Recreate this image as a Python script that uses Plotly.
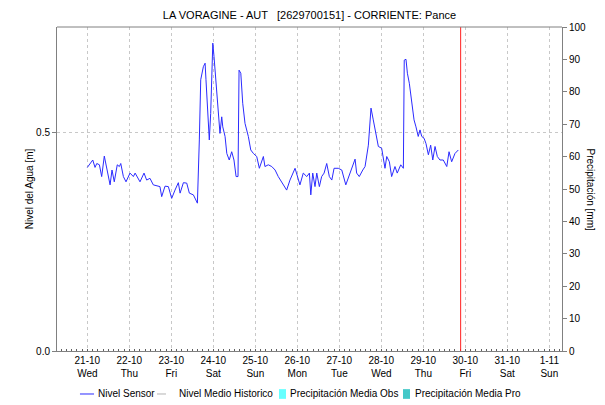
import pandas as pd
import plotly.graph_objects as go

# Nivel Sensor readings: hours after 21-10-2020 00:00 and water level [m]
sensor_hours = [
    0.0, 3.1, 4.4, 5.4, 6.9, 8.2, 9.7, 11.1, 13.0, 14.1, 15.4, 17.1, 18.3, 19.1,
    20.6, 22.1, 24.4, 26.3, 27.3, 30.1, 32.4, 33.9, 35.8, 37.7, 41.5, 42.5, 44.4,
    46.3, 48.2, 50.1, 52.0, 53.0, 54.9, 56.8, 58.3, 60.6, 62.9, 64.0, 64.8, 66.3,
    67.3, 67.8, 68.8, 69.7, 70.5, 71.1, 71.7, 72.4, 73.5, 74.5, 75.8, 76.8, 77.4,
    78.7, 79.7, 81.1, 82.5, 83.8, 85.0, 86.1, 86.7, 87.7, 88.8, 90.1, 92.0, 93.4,
    94.9, 96.8, 98.3, 100.6, 101.5, 103.4, 105.4, 107.3, 109.1, 113.9, 115.8,
    118.7, 120.0, 121.5, 123.4, 125.4, 126.9, 127.7, 128.8, 130.1, 131.1, 132.6,
    133.9, 135.3, 136.8, 138.3, 139.7, 141.0, 143.4, 145.4, 147.7, 150.1, 151.7,
    153.0, 153.9, 155.4, 157.4, 158.7, 160.6, 162.1, 163.4, 165.0, 166.3, 168.2,
    170.1, 171.1, 172.6, 173.9, 175.8, 177.1, 179.1, 180.6, 181.1, 182.1, 182.9,
    184.0, 185.4, 186.7, 187.8, 189.1, 190.1, 191.1, 192.4, 193.5, 194.9, 196.2,
    197.4, 198.7, 200.0, 201.5, 203.4, 205.4, 206.7, 208.2, 210.1, 212.0,
]
sensor_level = [
    0.421, 0.438, 0.421, 0.430, 0.427, 0.400, 0.447, 0.415, 0.381, 0.415, 0.388,
    0.427, 0.423, 0.430, 0.400, 0.388, 0.408, 0.400, 0.408, 0.388, 0.408, 0.392,
    0.396, 0.381, 0.377, 0.354, 0.378, 0.377, 0.350, 0.369, 0.386, 0.362, 0.386,
    0.385, 0.362, 0.358, 0.339, 0.484, 0.622, 0.652, 0.660, 0.622, 0.545, 0.484,
    0.545, 0.614, 0.706, 0.675, 0.614, 0.568, 0.499, 0.537, 0.514, 0.492, 0.453,
    0.438, 0.457, 0.438, 0.400, 0.400, 0.644, 0.637, 0.568, 0.522, 0.492, 0.461,
    0.453, 0.446, 0.419, 0.446, 0.423, 0.427, 0.423, 0.415, 0.400, 0.369, 0.392,
    0.419, 0.400, 0.381, 0.408, 0.400, 0.408, 0.358, 0.408, 0.377, 0.408, 0.377,
    0.400, 0.408, 0.430, 0.400, 0.392, 0.419, 0.419, 0.415, 0.381, 0.408, 0.423,
    0.440, 0.408, 0.400, 0.415, 0.423, 0.472, 0.557, 0.530, 0.492, 0.469, 0.465,
    0.419, 0.446, 0.434, 0.400, 0.423, 0.408, 0.427, 0.419, 0.667, 0.669, 0.637,
    0.614, 0.568, 0.530, 0.514, 0.492, 0.507, 0.492, 0.488, 0.476, 0.450, 0.472,
    0.438, 0.469, 0.446, 0.438, 0.438, 0.423, 0.457, 0.434, 0.453, 0.461,
]

# Precipitation series (no rain recorded in the period)
precip_obs_time, precip_obs_mm = [None], [None]
precip_pro_time, precip_pro_mm = [None], [None]

# Daily tick labels
tick_dates = ["2020-10-21", "2020-10-22", "2020-10-23", "2020-10-24", "2020-10-25",
              "2020-10-26", "2020-10-27", "2020-10-28", "2020-10-29", "2020-10-30",
              "2020-10-31", "2020-11-01"]
tick_days = ["21-10", "22-10", "23-10", "24-10", "25-10", "26-10", "27-10",
             "28-10", "29-10", "30-10", "31-10", "1-11"]
tick_weekdays = ["Wed", "Thu", "Fri", "Sat", "Sun", "Mon", "Tue", "Wed", "Thu",
                 "Fri", "Sat", "Sun"]

current_time = "2020-10-29 21:20"
x_start, x_end = "2020-10-20 06:40", "2020-11-01 07:15"
level_range = [0, 0.743]
precip_range = [0, 100]

base = pd.Timestamp("2020-10-21 00:00")
sensor_time = [base + pd.Timedelta(hours=h) for h in sensor_hours]

font = "Liberation Sans, Arial, sans-serif"
grid_color = "#c8c8c8"
axis_color = "#808080"
sensor_color = "#2b2bff"
hist_color = "#b4b4b4"
obs_color = "#66ffff"
pro_color = "#44c8c8"

fig = go.Figure()
fig.add_trace(go.Scatter(x=sensor_time, y=sensor_level, mode="lines",
                         name="Nivel Sensor", showlegend=False,
                         line=dict(color=sensor_color, width=1)))
fig.add_trace(go.Bar(x=precip_obs_time, y=precip_obs_mm, yaxis="y2",
                     name="Precipitación Media Obs", marker_color=obs_color,
                     showlegend=False))
fig.add_trace(go.Bar(x=precip_pro_time, y=precip_pro_mm, yaxis="y2",
                     name="Precipitación Media Pro", marker_color=pro_color,
                     showlegend=False))

fig.add_shape(type="line", xref="x", yref="paper", x0=current_time,
              x1=current_time, y0=0, y1=1, line=dict(color="#ff2020", width=1))

fig.update_layout(
    width=605, height=405,
    margin=dict(l=57, r=43, t=27, b=54),
    paper_bgcolor="white", plot_bgcolor="white",
    font=dict(family=font, size=10, color="#000000"),
    title=dict(text="LA VORAGINE - AUT \u00a0\u00a0[2629700151] - CORRIENTE: Pance",
               x=0.5, xref="paper", y=0.963, yref="container",
               xanchor="center", yanchor="middle",
               font=dict(family=font, size=11, color="#000000")),
    showlegend=False,
    xaxis=dict(type="date", range=[x_start, x_end],
               tickvals=tick_dates,
               ticktext=[f"{d}<br>{w}" for d, w in zip(tick_days, tick_weekdays)],
               tickangle=0,
               showgrid=True, gridcolor=grid_color, griddash="dot", gridwidth=1,
               showline=True, linecolor=axis_color, mirror=False,
               ticks="", zeroline=False,
               minor=dict(dtick=3 * 3600 * 1000, ticks="inside", ticklen=2,
                          tickcolor="#606060", showgrid=False),
               tickfont=dict(size=10)),
    yaxis=dict(range=level_range, tickvals=[0, 0.5], ticktext=["0.0", "0.5"],
               showgrid=True, gridcolor=grid_color, griddash="dot", gridwidth=1,
               showline=True, linecolor=axis_color, ticks="outside", ticklen=4,
               tickcolor=axis_color, zeroline=False,
               title=dict(text="Nivel del Agua [m]", standoff=0,
                          font=dict(size=10))),
    yaxis2=dict(range=precip_range, overlaying="y", side="right",
                tickvals=list(range(0, 101, 10)),
                showgrid=False, showline=True, linecolor=axis_color,
                ticks="outside", ticklen=4, tickcolor=axis_color,
                zeroline=False, tickfont=dict(size=10)),
)

# Top border of the plot frame
fig.add_shape(type="line", xref="paper", yref="paper", x0=0, x1=1, y0=1, y1=1,
              line=dict(color=axis_color, width=1))

# Right-hand axis title reads top to bottom
fig.add_annotation(text="Precipitación [mm]", xref="paper", yref="paper",
                   x=1.0, xshift=36, y=0.5, textangle=90, showarrow=False,
                   font=dict(family=font, size=10, color="#000000"))

# Legend row under the date axis
leg_y = -0.1327
leg_items = [
    ("line", sensor_color, "solid", 0.0455, 0.0733, "Nivel Sensor", 0.0772),
    ("line", hist_color, "dash", 0.198, 0.2297, "Nivel Medio Historico", 0.2376),
    ("rect", obs_color, None, 0.4396, 0.4535, "Precipitación Media Obs", 0.4574),
    ("rect", pro_color, None, 0.6851, 0.6990, "Precipitación Media Pro", 0.7050),
]
for kind, color, dash, xa, xb, label, xt in leg_items:
    if kind == "line":
        fig.add_shape(type="line", xref="paper", yref="paper", x0=xa, x1=xb,
                      y0=leg_y, y1=leg_y, line=dict(color=color, width=1, dash=dash))
    else:
        fig.add_shape(type="rect", xref="paper", yref="paper", x0=xa, x1=xb,
                      y0=leg_y - 0.015, y1=leg_y + 0.015, fillcolor=color,
                      line=dict(width=0))
    fig.add_annotation(text=label, xref="paper", yref="paper", x=xt, y=leg_y,
                       xanchor="left", yanchor="middle", showarrow=False,
                       font=dict(family=font, size=10, color="#000000"))

fig.write_html("out.html")
